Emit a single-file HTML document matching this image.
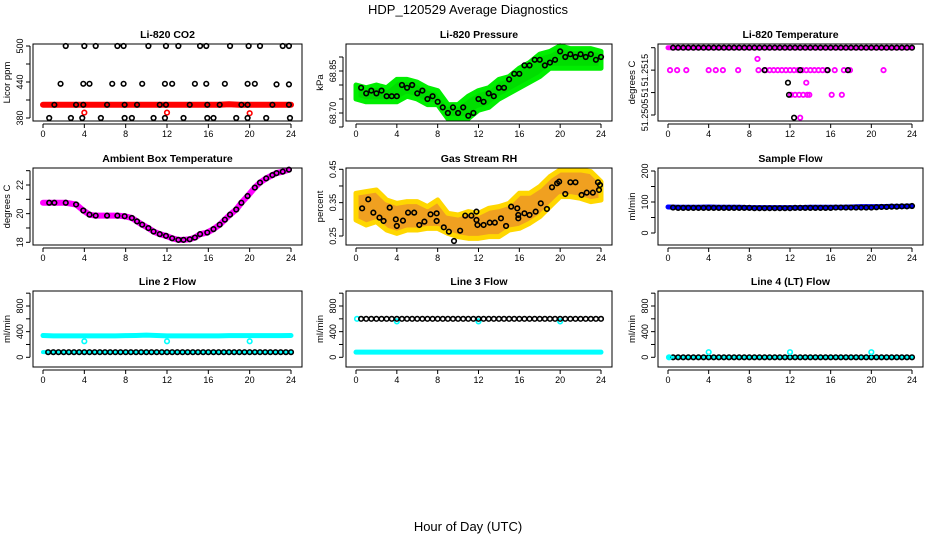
<!DOCTYPE html>
<html><head><meta charset="utf-8"><style>
html,body{margin:0;padding:0;background:#fff}
svg{display:block;font-family:"Liberation Sans",sans-serif}
</style></head><body>
<svg id="c" width="936" height="540" viewBox="0 0 936 540">
<text x="468" y="14" text-anchor="middle" font-size="13">HDP_120529  Average Diagnostics</text>
<text x="468" y="531" text-anchor="middle" font-size="13">Hour of Day (UTC)</text>
</svg>
<script>
// ---- data ----
const hours24 = [0,1,2,3,4,5,6,7,8,9,10,11,12,13,14,15,16,17,18,19,20,21,22,23,24];
const halfHours = [0.5,1,1.5,2,2.5,3,3.5,4,4.5,5,5.5,6,6.5,7,7.5,8,8.5,9,9.5,10,10.5,11,11.5,12,12.5,13,13.5,14,14.5,15,15.5,16,16.5,17,17.5,18,18.5,19,19.5,20,20.5,21,21.5,22,22.5,23,23.5,24];
const xTicks = [0,4,8,12,16,20,24];

const co2Hours = [2.2,4.0,5.1,7.2,7.8,10.2,11.9,13.1,15.2,15.8,18.1,19.9,21.0,23.2,23.8, 1.7,3.9,4.5,6.7,7.8,9.6,11.8,12.5,14.7,15.8,17.6,19.8,20.5,22.6,23.8, 1.1,3.2,3.9,6.2,7.9,9.1,11.3,11.9,14.2,15.9,17.1,19.2,19.8,22.2,23.8, 0.6,2.7,3.8,5.6,7.9,8.6,10.7,11.8,13.6,15.9,16.5,18.7,19.8,21.6,23.9];
const co2Vals = [500,500,500,500,500,500,500,500,500,500,500,500,500,500,500, 437,437,437,437,437,437,437,437,437,437,437,437,437,436,436, 402,402,402,402,402,402,402,402,402,402,402,402,402,402,402, 380,380,380,380,380,380,380,380,380,380,380,380,380,380,380];
const co2RedLine = [402,402,402,402,402,402,402,402,402,402,402,402,402,402,402,402,402,402,403,402,402,402,402,402,402];
const co2RedHours = [4,12,20];
const co2RedVals = [389,389,388];

const presUpper = [68.80,68.79,68.80,68.79,68.82,68.82,68.81,68.79,68.78,68.73,68.73,68.76,68.78,68.79,68.82,68.83,68.86,68.88,68.91,68.92,68.94,68.93,68.93,68.93,68.92];
const presLower = [68.75,68.74,68.74,68.74,68.74,68.76,68.75,68.73,68.73,68.68,68.68,68.68,68.71,68.72,68.75,68.77,68.79,68.81,68.83,68.86,68.86,68.86,68.86,68.86,68.86];
const presBlack = [68.79,68.77,68.78,68.77,68.78,68.76,68.76,68.76,68.80,68.79,68.80,68.77,68.78,68.75,68.76,68.74,68.72,68.70,68.72,68.70,68.72,68.69,68.70,68.75,68.74,68.77,68.76,68.79,68.79,68.82,68.84,68.84,68.87,68.87,68.89,68.89,68.87,68.88,68.89,68.92,68.90,68.91,68.90,68.91,68.90,68.91,68.89,68.90];

const tempTopLine = [51.2520,51.2520,51.2520,51.2520,51.2520,51.2520,51.2520,51.2520,51.2520,51.2520,51.2520,51.2520,51.2520,51.2520,51.2520,51.2520,51.2520,51.2520,51.2520,51.2520,51.2520,51.2520,51.2520,51.2520,51.2520];
const tempMagHours = [0.2,0.9,1.8,4.0,4.7,5.4,6.9,8.9,9.6,10.0,10.4,10.8,11.2,11.6,12.0,12.4,12.8,13.2,13.6,14.0,14.4,14.8,15.2,15.6,16.4,17.3,17.9,21.2, 8.8, 13.6, 12.1,12.5,12.9,13.3,13.7,13.9,16.1,17.1, 13.0];
const tempMagVals = [51.2515,51.2515,51.2515,51.2515,51.2515,51.2515,51.2515,51.2515,51.2515,51.2515,51.2515,51.2515,51.2515,51.2515,51.2515,51.2515,51.2515,51.2515,51.2515,51.2515,51.2515,51.2515,51.2515,51.2515,51.2515,51.2515,51.2515,51.2515, 51.25175, 51.25122, 51.25095,51.25095,51.25095,51.25095,51.25095,51.25095,51.25095,51.25095, 51.25044];
const tempBlackHours = [9.5,13.0,15.7,17.7, 11.8, 11.9, 12.4];
const tempBlackVals = [51.2515,51.2515,51.2515,51.2515, 51.25122, 51.25095, 51.25044];

const ambHours = [0,0.6,1.1,2.2,3.2,3.9,4.5,5.1,6.2,7.2,7.9,8.6,9.1,9.6,10.2,10.7,11.3,11.9,12.5,13.1,13.6,14.2,14.7,15.2,15.9,16.5,17.1,17.6,18.1,18.7,19.2,19.8,20.5,21.0,21.6,22.2,22.6,23.2,23.8];
const ambVals = [20.76,20.76,20.76,20.76,20.64,20.22,19.93,19.86,19.86,19.86,19.82,19.70,19.46,19.23,18.99,18.75,18.57,18.45,18.28,18.17,18.17,18.21,18.33,18.57,18.68,18.92,19.23,19.58,19.93,20.29,20.76,21.23,21.82,22.17,22.46,22.69,22.83,22.93,23.07];

const rhUpper = [0.378,0.383,0.388,0.358,0.348,0.353,0.353,0.338,0.358,0.318,0.313,0.323,0.318,0.333,0.338,0.348,0.378,0.378,0.398,0.428,0.448,0.448,0.448,0.443,0.413];
const rhLower = [0.298,0.283,0.293,0.268,0.258,0.268,0.268,0.273,0.273,0.258,0.248,0.243,0.243,0.248,0.248,0.268,0.273,0.288,0.308,0.338,0.368,0.368,0.363,0.353,0.358];
const rhHours = [0.6,1.2,1.7,2.3,2.7,3.3,3.9,4.0,4.6,5.1,5.7,6.2,6.7,7.3,7.9,7.9,8.6,9.1,9.6,10.2,10.7,11.3,11.8,11.8,11.9,12.5,13.1,13.6,14.2,14.7,15.2,15.8,15.9,15.9,16.5,17.0,17.6,18.1,18.7,19.2,19.7,19.9,20.5,21.0,21.5,22.1,22.6,23.2,23.7,23.8,23.9];
const rhVals = [0.333,0.36,0.32,0.305,0.295,0.335,0.30,0.28,0.296,0.32,0.32,0.283,0.293,0.315,0.318,0.295,0.276,0.263,0.235,0.266,0.311,0.311,0.323,0.298,0.283,0.283,0.29,0.29,0.303,0.28,0.338,0.333,0.313,0.303,0.318,0.313,0.323,0.348,0.331,0.396,0.408,0.413,0.376,0.411,0.411,0.373,0.38,0.38,0.411,0.388,0.403];

const sampleLine = [84,83,83,83,84,83,83,83,82,82,82,82,82,82,83,83,83,83,84,85,85,85,86,86,87];
const sampleBlack = [82,81,81,81,81,81,81,81,81,81,81,81,81,81,81,81,80,80,80,80,80,80,80,80,81,81,81,81,81,81,81,81,82,82,82,82,82,82,82,82,83,84,84,85,85,86,86,87];

const line2Cyan = [340,335,335,335,335,335,335,335,338,340,345,340,335,335,335,335,335,335,338,338,338,338,338,338,340];
const line2CyanHours = [4,12,20];
const line2CyanVals = [250,250,250];
const line2Black = [80,80,80,80,80,80,80,80,80,80,80,80,80,80,80,80,80,80,80,80,80,80,80,80,80,80,80,80,80,80,80,80,80,80,80,80,80,80,80,80,80,80,80,80,80,80,80,80];

const line3Cyan = [80,80,80,80,80,80,80,80,80,80,80,80,80,80,80,80,80,80,80,80,80,80,80,80,80];
const line3CyanHours = [0.1,4,12,20];
const line3CyanVals = [600,560,560,560];
const line3Black = [600,600,600,600,600,600,600,600,600,600,600,600,600,600,600,600,600,600,600,600,600,600,600,600,600,600,600,600,600,600,600,600,600,600,600,600,600,600,600,600,600,600,600,600,600,600,600,600];

const line4Cyan = [0,0,0,0,0,0,0,0,0,0,0,0,0,0,0,0,0,0,0,0,0,0,0,0,0];
const line4CyanHours = [0.1,4,12,20];
const line4CyanVals = [0,80,80,80];
const line4Black = [0,0,0,0,0,0,0,0,0,0,0,0,0,0,0,0,0,0,0,0,0,0,0,0,0,0,0,0,0,0,0,0,0,0,0,0,0,0,0,0,0,0,0,0,0,0,0,0];

// ---- drawing ----
const NS = 'http://www.w3.org/2000/svg';
const svg = document.getElementById('c');
function mk(tag, attrs, parent){
  const e = document.createElementNS(NS, tag);
  for (const k in attrs) e.setAttribute(k, attrs[k]);
  (parent||svg).appendChild(e);
  return e;
}
const colL = [33, 346, 658], colR = [302, 612, 923];
const rowT = [44, 168, 291], rowB = [121, 245, 367];

function makePanel(col, row, title, ytitle, v0, p0, v1, p1, yTicks, yLabels, name){
  const L = colL[col], R = colR[col], T = rowT[row], B = rowB[row];
  const g = mk('g', {});
  
  
  const x0 = L + 10, x24 = R - 11;
  const xs = h => x0 + (x24 - x0) * h / 24;
  const ys = v => p0 + (p1 - p0) * (v - v0) / (v1 - v0);
  const t = mk('text', {x:(L+R)/2, y:T-6, 'text-anchor':'middle', 'font-size':10.5, 'font-weight':'bold'}, g);
  t.textContent = title;
  
  
  const yt = mk('text', {transform:`translate(${L-23},${(T+B)/2}) rotate(-90)`, 'text-anchor':'middle', 'font-size':9.5}, g);
  yt.textContent = ytitle;
  
  
  const data = mk('g', {}, g);
  
  
  const ax = mk('g', {stroke:'#000', 'stroke-width':1, fill:'none'}, g);
  
  
  const box = mk('rect', {x:L, y:T, width:R-L, height:B-T}, ax);
  
  
  mk('line', {x1:xs(0), x2:xs(24), y1:B+3, y2:B+3}, ax);
  xTicks.forEach(h => {
    mk('line', {x1:xs(h), x2:xs(h), y1:B+3, y2:B+7}, ax);
    const tx = mk('text', {x:xs(h), y:B+16, 'text-anchor':'middle', 'font-size':9, fill:'#000', stroke:'none'}, g);
    tx.textContent = h;
    
    
  });
  const ymin = ys(yTicks[0]), ymax = ys(yTicks[yTicks.length-1]);
  mk('line', {x1:L-3, x2:L-3, y1:ymin, y2:ymax}, ax);
  yTicks.forEach((v, i) => {
    mk('line', {x1:L-3, x2:L-7, y1:ys(v), y2:ys(v)}, ax);
    if (yLabels[i] !== '') {
      const ty = mk('text', {transform:`translate(${L-10},${ys(v)}) rotate(-90)`, 'text-anchor':'middle', 'font-size':9}, g);
      ty.textContent = yLabels[i];
      
      
    }
  });
  return {xs, ys, data, name};
}
function band(p, hrs, up, lo, fill, stroke){
  const pts = hrs.map((h,i)=>p.xs(h)+','+p.ys(up[i])).concat(hrs.map((h,i)=>[h,i]).reverse().map(([h,i])=>p.xs(h)+','+p.ys(lo[i])));
  const e = mk('polygon', {points:pts.join(' '), fill:fill, stroke:stroke, 'stroke-width':5, 'stroke-linejoin':'round'}, p.data);
  
  
}
function line(p, hrs, vals, color, w){
  const e = mk('polyline', {points:hrs.map((h,i)=>p.xs(h)+','+p.ys(vals[i])).join(' '), fill:'none', stroke:color, 'stroke-width':w, 'stroke-linejoin':'round', 'stroke-linecap':'round'}, p.data);
  
  
}
function pts(p, hrs, vals, color){
  hrs.forEach((h,i)=>{
    const e = mk('circle', {cx:p.xs(h), cy:p.ys(vals[i]), r:2.3, fill:'none', stroke:color, 'stroke-width':1.6}, p.data);
    
    
  });
}
function sq(p, hrs, vals, color){
  hrs.forEach((h,i)=>{
    const e = mk('circle', {cx:p.xs(h), cy:p.ys(vals[i]), r:2.2, fill:'none', stroke:color, 'stroke-width':1.8}, p.data);
    
    
  });
}

let p = makePanel(0,0,'Li-820 CO2','Licor ppm',380,118,500,46,[380,410,440,470,500],['380','','440','','500'],'co2');
line(p, hours24, co2RedLine, '#ff0000', 6);
pts(p, co2RedHours, co2RedVals, '#ff0000');
pts(p, co2Hours, co2Vals, '#000');

p = makePanel(1,0,'Li-820 Pressure','kPa',68.70,113,68.85,71,[68.65,68.70,68.75,68.80,68.85,68.90],['','68.70','','','68.85',''],'pressure');
band(p, hours24, presUpper, presLower, '#00dd00', '#00ee00');
pts(p, halfHours, presBlack, '#000');

p = makePanel(2,0,'Li-820 Temperature','degrees C',51.2505,115,51.2520,47.7,[51.2505,51.2510,51.2515,51.2520],['51.2505','51','51.2515',''],'li820-temperature');
line(p, hours24, tempTopLine, '#ff00ff', 5);
sq(p, tempMagHours, tempMagVals, '#ff00ff');
pts(p, halfHours, tempTopLine.concat(tempTopLine).slice(0, halfHours.length), '#000');
pts(p, tempBlackHours, tempBlackVals, '#000');

p = makePanel(0,1,'Ambient Box Temperature','degrees C',18,242.3,22,185,[18,19,20,21,22,23],['18','','20','','22',''],'ambient-temperature');
line(p, ambHours, ambVals, '#ff00ff', 6);
pts(p, ambHours.slice(1), ambVals.slice(1), '#000');

p = makePanel(1,1,'Gas Stream RH','percent',0.25,236,0.45,169.3,[0.25,0.30,0.35,0.40,0.45],['0.25','','0.35','','0.45'],'gas-stream-rh');
band(p, hours24, rhUpper, rhLower, '#f0a020', '#ffd700');
pts(p, rhHours, rhVals, '#000');

p = makePanel(2,1,'Sample Flow','ml/min',0,233,200,171,[0,50,100,150,200],['0','','100','','200'],'sample-flow');
line(p, hours24, sampleLine, '#0000ff', 5);
pts(p, halfHours, sampleBlack, '#000');

const flowTicks = [0,200,400,600,800,1000], flowLabels = ['0','','400','','800',''];
p = makePanel(0,2,'Line 2 Flow','ml/min',0,357.3,800,306,flowTicks,flowLabels,'line2-flow');
line(p, hours24, line2Cyan, '#00ffff', 5);
pts(p, line2CyanHours, line2CyanVals, '#00ffff');
line(p, hours24, line2Black, '#00ffff', 4);
pts(p, halfHours, line2Black, '#000');

p = makePanel(1,2,'Line 3 Flow','ml/min',0,357.3,800,306,flowTicks,flowLabels,'line3-flow');
line(p, hours24, line3Cyan, '#00ffff', 5);
pts(p, line3CyanHours, line3CyanVals, '#00ffff');
pts(p, halfHours, line3Black, '#000');

p = makePanel(2,2,'Line 4 (LT) Flow','ml/min',0,357.3,800,306,flowTicks,flowLabels,'line4-flow');
line(p, hours24, line4Cyan, '#00ffff', 4);
pts(p, halfHours, line4Black, '#000');
pts(p, line4CyanHours, line4CyanVals, '#00ffff');
</script>
</body></html>
